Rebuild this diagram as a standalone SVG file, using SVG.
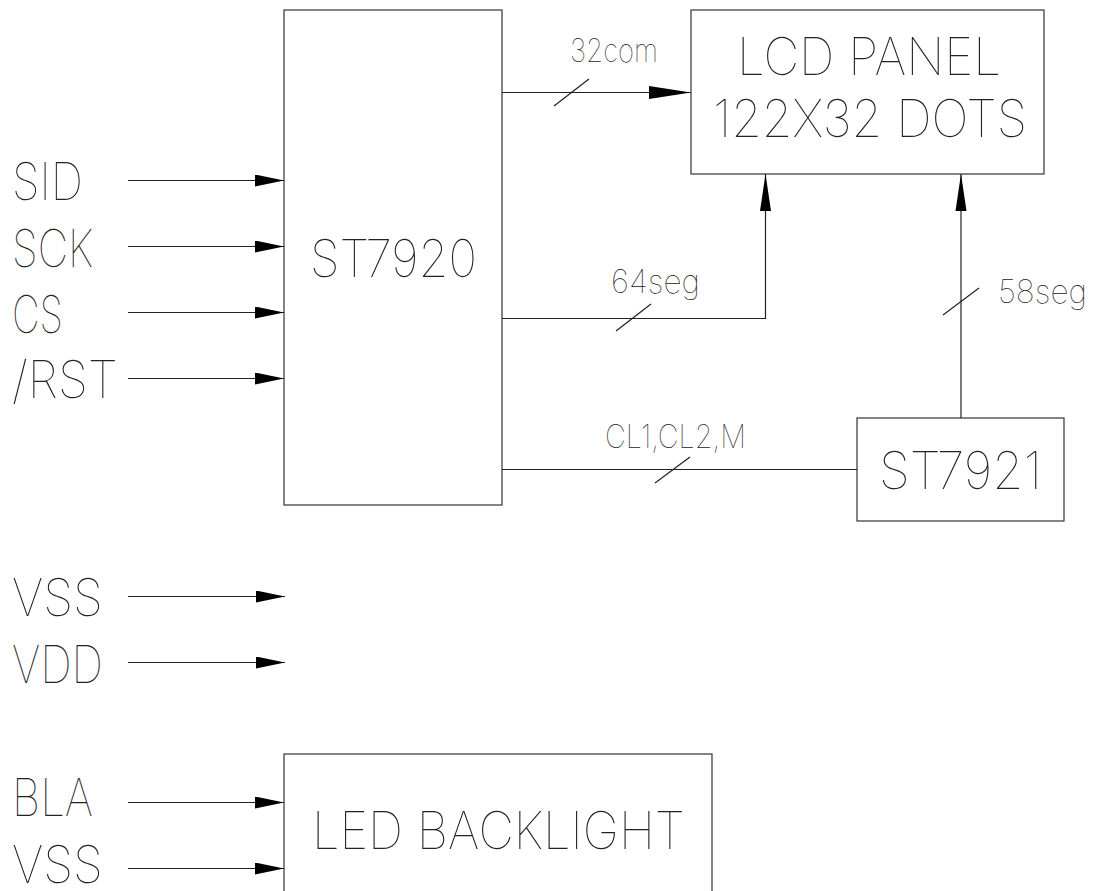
<svg xmlns="http://www.w3.org/2000/svg" width="1094" height="891" viewBox="0 0 1094 891">
<style>
  .box{fill:none;stroke:#333;stroke-width:1.2}
  .wire{fill:none;stroke:#222;stroke-width:1.2}
  .big{font-family:Inter,"DejaVu Sans",sans-serif;font-weight:100;font-size:52px;fill:#222}
  .sml{font-family:Inter,"DejaVu Sans",sans-serif;font-weight:100;font-size:33px;fill:#222}
</style>
<defs>
  <marker id="arrS" markerUnits="userSpaceOnUse" markerWidth="29" markerHeight="12" refX="29" refY="6" orient="auto">
    <path d="M0,0 L29,6 L0,12 z" fill="#000"/>
  </marker>
  <marker id="arrL" markerUnits="userSpaceOnUse" markerWidth="42" markerHeight="14" refX="42" refY="7" orient="auto">
    <path d="M0,0.5 L42,7 L0,13.5 z" fill="#000"/>
  </marker>
  <marker id="arrV" markerUnits="userSpaceOnUse" markerWidth="37" markerHeight="12" refX="37" refY="6" orient="auto">
    <path d="M0,0.5 L37,6 L0,11.5 z" fill="#000"/>
  </marker>
</defs>
<rect width="1094" height="891" fill="#fff"/>

<g id="inputs">
  <text class="big" x="12" y="200" textLength="71" lengthAdjust="spacingAndGlyphs">SID</text>
  <text class="big" x="12" y="267" textLength="81" lengthAdjust="spacingAndGlyphs">SCK</text>
  <text class="big" x="12" y="333" textLength="51" lengthAdjust="spacingAndGlyphs">CS</text>
  <text class="big" x="12" y="398" textLength="106" lengthAdjust="spacingAndGlyphs">/RST</text>
  <text class="big" x="12" y="616" textLength="91" lengthAdjust="spacingAndGlyphs">VSS</text>
  <text class="big" x="12" y="683" textLength="91" lengthAdjust="spacingAndGlyphs">VDD</text>
  <text class="big" x="12" y="816" textLength="81" lengthAdjust="spacingAndGlyphs">BLA</text>
  <text class="big" x="12" y="883" textLength="91" lengthAdjust="spacingAndGlyphs">VSS</text>
</g>

<g id="st7920">
  <rect class="box" x="284" y="10" width="218" height="495"/>
  <text class="big" x="310" y="277" textLength="167" lengthAdjust="spacingAndGlyphs">ST7920</text>
</g>

<g id="lcd-panel">
  <rect class="box" x="691" y="10" width="353" height="164"/>
  <text class="big" x="737" y="75" textLength="264" lengthAdjust="spacingAndGlyphs">LCD PANEL</text>
  <text class="big" x="713" y="137" textLength="314" lengthAdjust="spacingAndGlyphs">122X32 DOTS</text>
</g>

<g id="st7921">
  <rect class="box" x="857" y="418" width="207" height="103"/>
  <text class="big" x="879" y="489" textLength="163" lengthAdjust="spacingAndGlyphs">ST7921</text>
</g>

<g id="led-backlight">
  <rect class="box" x="284" y="754" width="428" height="160"/>
  <text class="big" x="312" y="849" textLength="373" lengthAdjust="spacingAndGlyphs">LED BACKLIGHT</text>
</g>

<g id="connectors">
  <line class="wire" x1="128" y1="180.5" x2="284" y2="180.5" marker-end="url(#arrS)"/>
  <line class="wire" x1="128" y1="246.5" x2="284" y2="246.5" marker-end="url(#arrS)"/>
  <line class="wire" x1="128" y1="312.5" x2="284" y2="312.5" marker-end="url(#arrS)"/>
  <line class="wire" x1="128" y1="378.5" x2="284" y2="378.5" marker-end="url(#arrS)"/>
  <line class="wire" x1="128" y1="596.5" x2="285" y2="596.5" marker-end="url(#arrS)"/>
  <line class="wire" x1="128" y1="662.5" x2="285" y2="662.5" marker-end="url(#arrS)"/>
  <line class="wire" x1="128" y1="802.5" x2="284" y2="802.5" marker-end="url(#arrS)"/>
  <line class="wire" x1="128" y1="868.5" x2="284" y2="868.5" marker-end="url(#arrS)"/>

  <path class="wire" d="M502,92.5 H691" marker-end="url(#arrL)"/>
  <path class="wire" d="M502,318.5 H765.5 V174" marker-end="url(#arrV)"/>
  <path class="wire" d="M961,418 V174" marker-end="url(#arrV)"/>
  <path class="wire" d="M502,469.5 H857"/>

  <line class="wire" x1="554" y1="106" x2="589" y2="79"/>
  <line class="wire" x1="616" y1="331" x2="651" y2="304"/>
  <line class="wire" x1="943" y1="315" x2="979" y2="288"/>
  <line class="wire" x1="655" y1="483" x2="690" y2="457"/>

  <text class="sml" x="570" y="62" textLength="88" lengthAdjust="spacingAndGlyphs">32com</text>
  <text class="sml" x="611" y="293" textLength="89" lengthAdjust="spacingAndGlyphs">64seg</text>
  <text class="sml" x="998" y="303" textLength="89" lengthAdjust="spacingAndGlyphs">58seg</text>
  <text class="sml" x="605" y="448" textLength="141" lengthAdjust="spacingAndGlyphs">CL1,CL2,M</text>
</g>
</svg>
